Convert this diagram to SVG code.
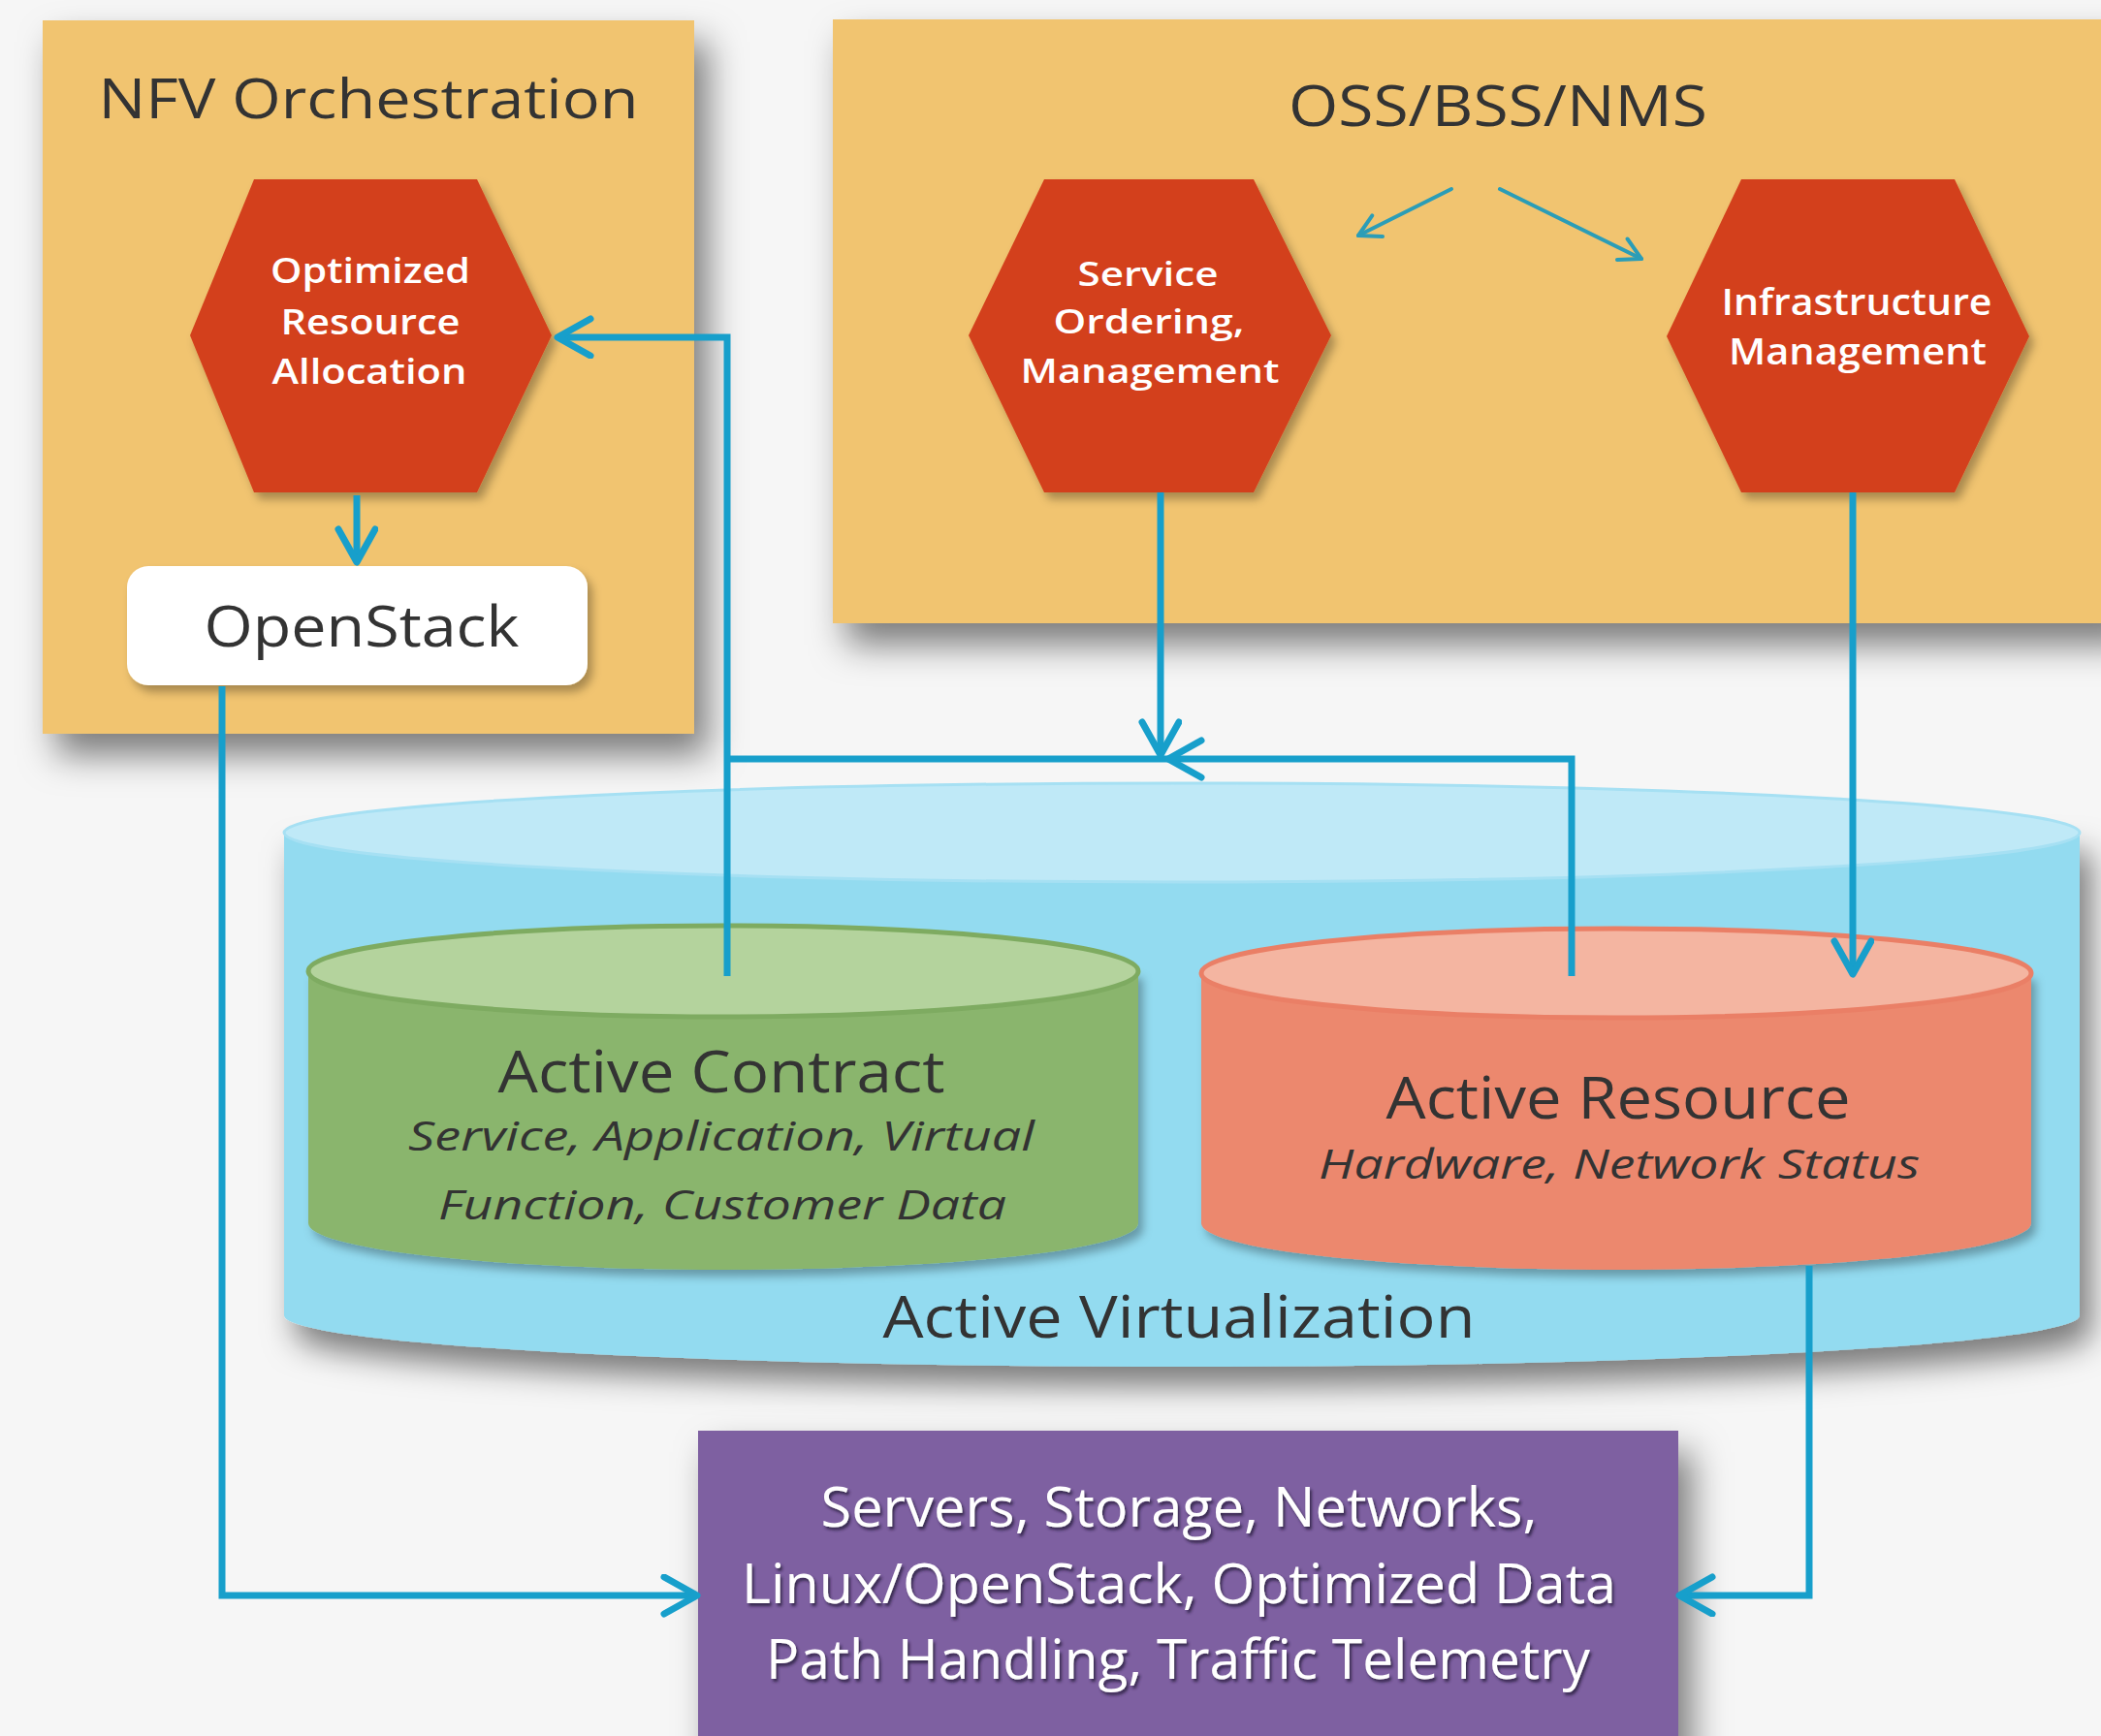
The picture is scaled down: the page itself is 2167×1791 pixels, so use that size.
<svg xmlns="http://www.w3.org/2000/svg" width="2167" height="1791" viewBox="0 0 2167 1791">
<defs>
<style>
.t{font-family:"Open Sans","Liberation Sans",sans-serif;text-anchor:middle}
.dk{fill:#333333}
.wh{fill:#ffffff;font-weight:600}
.wr{fill:#ffffff;font-weight:400}
.it{font-style:italic}
.box{fill:#f1c470}
.hex{fill:#d3411c}
.con{fill:none;stroke:#179fcb;stroke-width:7;stroke-linejoin:miter}
.sm{fill:none;stroke:#2b9db7;stroke-width:4;stroke-linecap:round}
</style>
<filter id="shBox" x="-20%" y="-20%" width="150%" height="150%"><feDropShadow dx="14" dy="22" stdDeviation="18" flood-color="#000" flood-opacity="0.5"/></filter>
<filter id="shCyl" x="-10%" y="-20%" width="125%" height="150%"><feDropShadow dx="12" dy="20" stdDeviation="16" flood-color="#000" flood-opacity="0.5"/></filter>
<filter id="shSm" x="-20%" y="-20%" width="140%" height="140%"><feDropShadow dx="5" dy="7" stdDeviation="5" flood-color="#000" flood-opacity="0.3"/></filter>
<filter id="shTx" x="-5%" y="-30%" width="110%" height="160%"><feDropShadow dx="2" dy="3" stdDeviation="1.5" flood-color="#2a1a40" flood-opacity="0.85"/></filter>
<marker id="arr" markerUnits="userSpaceOnUse" viewBox="0 0 50 50" markerWidth="50" markerHeight="50" refX="40" refY="22" orient="auto"><path d="M6,3 L40,22 L6,41" fill="none" stroke="#179fcb" stroke-width="7" stroke-linecap="round" stroke-linejoin="round"/></marker>
<marker id="arrS" markerUnits="userSpaceOnUse" viewBox="0 0 40 40" markerWidth="40" markerHeight="40" refX="30" refY="20" orient="auto"><path d="M8,8 L30,20 L8,32" fill="none" stroke="#2b9db7" stroke-width="4" stroke-linecap="round" stroke-linejoin="round"/></marker>
</defs>
<rect x="0" y="0" width="2167" height="1791" fill="#f6f6f6"/>

<g id="nfv-orchestration">
<rect class="box" x="44" y="21" width="672" height="736" filter="url(#shBox)"/>
<text class="t dk" x="380" y="122" font-size="56" textLength="557" lengthAdjust="spacingAndGlyphs">NFV Orchestration</text>
</g>

<g id="oss-bss-nms">
<rect class="box" x="859" y="20" width="1330" height="623" filter="url(#shBox)"/>
<text class="t dk" x="1545" y="130" font-size="58" textLength="432" lengthAdjust="spacingAndGlyphs">OSS/BSS/NMS</text>
</g>

<g id="optimized-resource-allocation">
<polygon class="hex" points="262,185 492,185 569,346 492,508 262,508 196,346" filter="url(#shSm)"/>
<text class="t wh" x="382" y="292" font-size="36" textLength="206" lengthAdjust="spacingAndGlyphs">Optimized</text>
<text class="t wh" x="382" y="345" font-size="36" textLength="185" lengthAdjust="spacingAndGlyphs">Resource</text>
<text class="t wh" x="381" y="396" font-size="36" textLength="201" lengthAdjust="spacingAndGlyphs">Allocation</text>
</g>

<g id="openstack">
<rect x="131" y="584" width="475" height="123" rx="22" fill="#ffffff" filter="url(#shSm)"/>
<text class="t dk" x="373" y="667" font-size="58" textLength="325" lengthAdjust="spacingAndGlyphs">OpenStack</text>
</g>

<g id="service-ordering-management">
<polygon class="hex" points="1077,185 1293,185 1373,346 1293,508 1077,508 999,346" filter="url(#shSm)"/>
<text class="t wh" x="1184" y="295" font-size="35" textLength="145" lengthAdjust="spacingAndGlyphs">Service</text>
<text class="t wh" x="1185" y="344" font-size="35" textLength="197" lengthAdjust="spacingAndGlyphs">Ordering,</text>
<text class="t wh" x="1186" y="395" font-size="35" textLength="267" lengthAdjust="spacingAndGlyphs">Management</text>
</g>

<g id="infrastructure-management">
<polygon class="hex" points="1796,185 2016,185 2093,347 2016,508 1796,508 1719,347" filter="url(#shSm)"/>
<text class="t wh" x="1915" y="325" font-size="37" textLength="279" lengthAdjust="spacingAndGlyphs">Infrastructure</text>
<text class="t wh" x="1916" y="376" font-size="37" textLength="266" lengthAdjust="spacingAndGlyphs">Management</text>
</g>

<g id="active-virtualization">
<path d="M293,859 V1357 A926,53 0 0 0 2145,1357 V859 Z" fill="#93dbf0" filter="url(#shCyl)"/>
<ellipse cx="1219" cy="859" rx="926" ry="51" fill="#bfe9f7" stroke="#a6e0f3" stroke-width="3"/>
<text class="t dk" x="1216" y="1380" font-size="60" textLength="611" lengthAdjust="spacingAndGlyphs">Active Virtualization</text>
</g>

<g id="active-contract">
<path d="M318,1002 V1262 A428,48 0 0 0 1174,1262 V1002 Z" fill="#8ab56d" filter="url(#shSm)"/>
<ellipse cx="746" cy="1002" rx="428" ry="47" fill="#b4d39d" stroke="#7eab61" stroke-width="5"/>
<text class="t dk" x="744" y="1127" font-size="60" textLength="461" lengthAdjust="spacingAndGlyphs">Active Contract</text>
<text class="t dk it" x="744" y="1187" font-size="42" textLength="646" lengthAdjust="spacingAndGlyphs">Service, Application, Virtual</text>
<text class="t dk it" x="745" y="1258" font-size="42" textLength="586" lengthAdjust="spacingAndGlyphs">Function, Customer Data</text>
</g>

<g id="active-resource">
<path d="M1239,1004 V1262 A428,48 0 0 0 2095,1262 V1004 Z" fill="#ec886e" filter="url(#shSm)"/>
<ellipse cx="1667" cy="1004" rx="428" ry="46" fill="#f4b5a1" stroke="#ea7f66" stroke-width="5"/>
<text class="t dk" x="1669" y="1154" font-size="60" textLength="479" lengthAdjust="spacingAndGlyphs">Active Resource</text>
<text class="t dk it" x="1670" y="1216" font-size="42" textLength="620" lengthAdjust="spacingAndGlyphs">Hardware, Network Status</text>
</g>

<g id="infrastructure">
<rect x="720" y="1476" width="1011" height="340" fill="#7e60a1" filter="url(#shBox)"/>
<g filter="url(#shTx)">
<text class="t wr" x="1216" y="1575" font-size="56" textLength="739" lengthAdjust="spacingAndGlyphs">Servers, Storage, Networks,</text>
<text class="t wr" x="1216" y="1654" font-size="56" textLength="902" lengthAdjust="spacingAndGlyphs">Linux/OpenStack, Optimized Data</text>
<text class="t wr" x="1215" y="1732" font-size="56" textLength="850" lengthAdjust="spacingAndGlyphs">Path Handling, Traffic Telemetry</text>
</g>
</g>

<g id="connectors">
<path class="sm" d="M1497,195 L1401,243" marker-end="url(#arrS)"/>
<path class="sm" d="M1547,195 L1693,267" marker-end="url(#arrS)"/>
<path class="con" d="M368,511 V580" marker-end="url(#arr)"/>
<path class="con" d="M1621,1007 V783 H750"/>
<path class="con" d="M750,1007 V348 H575" marker-end="url(#arr)"/>
<path class="con" d="M1239,764 L1205,783 L1239,802" stroke-linecap="round"/>
<path class="con" d="M1197,508 V779" marker-end="url(#arr)"/>
<path class="con" d="M1911,508 V1005" marker-end="url(#arr)"/>
<path class="con" d="M229,708 V1646 H719" marker-end="url(#arr)"/>
<path class="con" d="M1866,1306 V1646 H1732" marker-end="url(#arr)"/>
</g>
</svg>
